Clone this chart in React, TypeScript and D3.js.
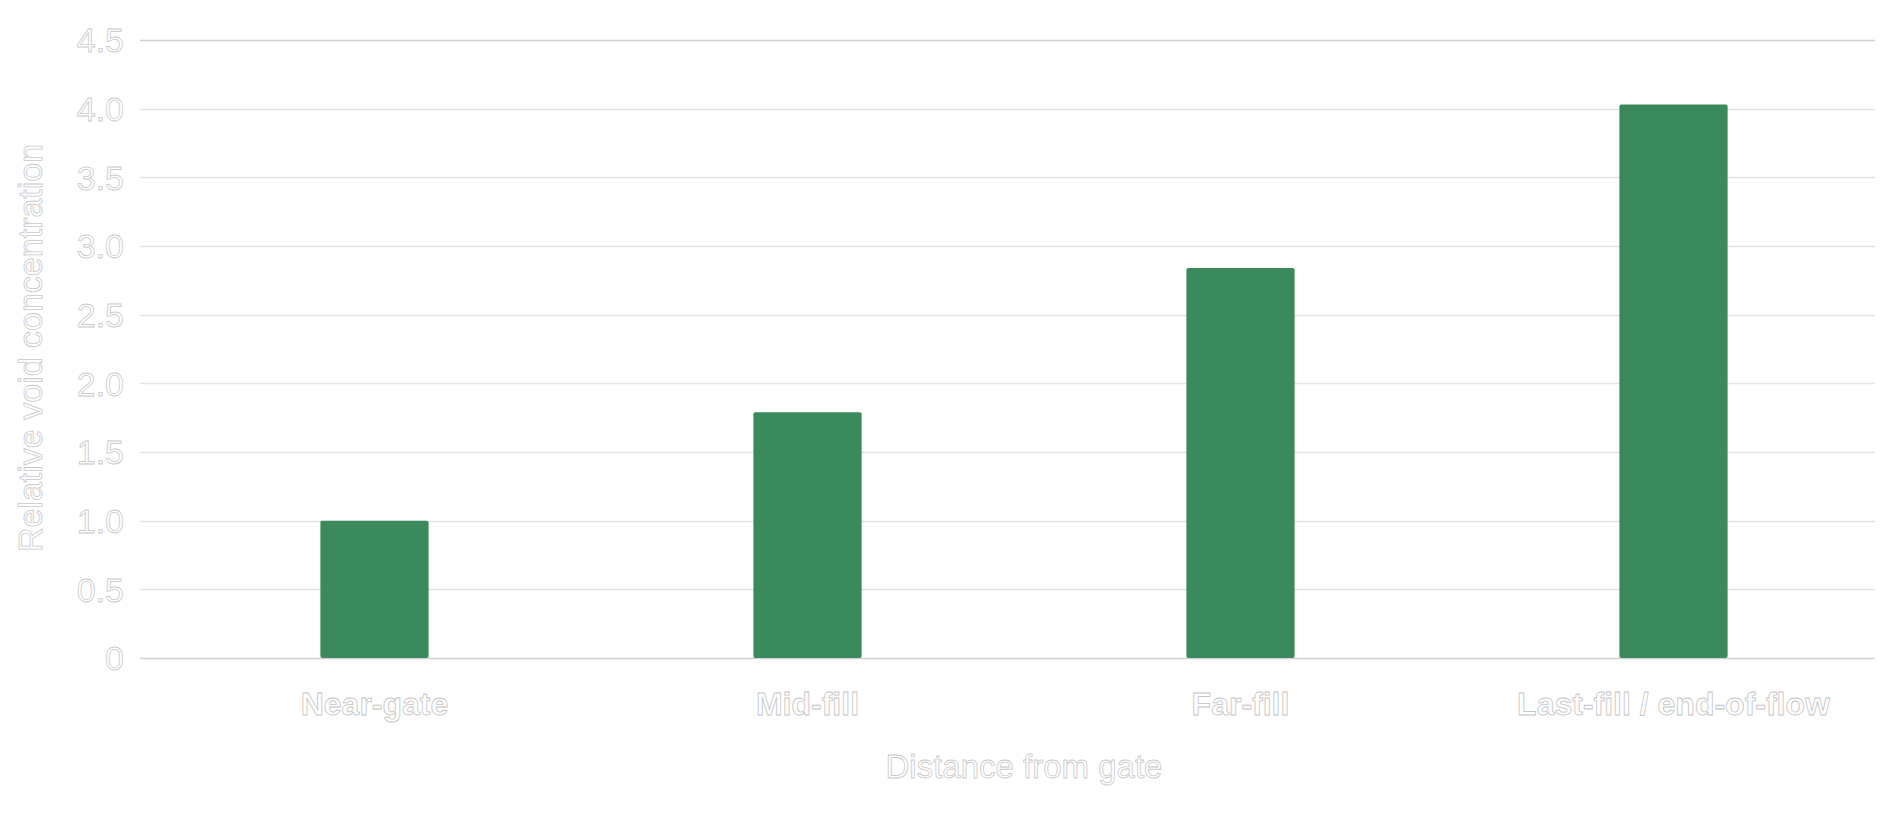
import React, { useEffect, useRef } from "react";
import * as d3 from "d3";

// chart data
const categories = ["Near-gate", "Mid-fill", "Far-fill", "Last-fill / end-of-flow"];
const voidValues = [1.0, 1.79, 2.84, 4.03];
const yTicks = [0, 0.5, 1.0, 1.5, 2.0, 2.5, 3.0, 3.5, 4.0, 4.5];
const xTitle = "Distance from gate";
const yTitle = "Relative void concentration";

const FONT = "'Liberation Sans', Arial, sans-serif";

function drawChart(node: SVGSVGElement) {
  const width = 1883;
  const height = 835;
  const gridLeft = 140;
  const gridRight = 1875;

  const svg = d3.select(node);
  svg.selectAll("*").remove();
  svg.attr("width", width).attr("height", height);

  const x = d3
    .scaleBand<string>()
    .domain(categories)
    .range([158, 1890])
    .paddingInner(0.75)
    .paddingOuter(0.375);

  const y = d3.scaleLinear().domain([0, 4.5]).range([658, 40]);

  // horizontal grid lines
  svg
    .append("g")
    .selectAll("line")
    .data(yTicks)
    .join("line")
    .attr("x1", gridLeft)
    .attr("x2", gridRight)
    .attr("y1", (d) => Math.round(y(d)) + 0.5)
    .attr("y2", (d) => Math.round(y(d)) + 0.5)
    .attr("stroke", (d) => (d === 0 || d === 4.5 ? "#cfcfcf" : "#e4e4e4"))
    .attr("stroke-width", 1.5);

  // y tick labels
  svg
    .append("g")
    .selectAll("text")
    .data(yTicks)
    .join("text")
    .attr("x", 124)
    .attr("y", (d) => y(d))
    .attr("dy", "0.36em")
    .attr("text-anchor", "end")
    .attr("font-family", FONT)
    .attr("font-size", 34)
    .attr("fill", "#fff")
    .attr("stroke", "#c9c9c9")
    .attr("stroke-width", 0.8)
    .text((d) => (d === 0 ? "0" : d3.format(".1f")(d)));

  // bars
  svg
    .append("g")
    .attr("fill", "#3a8a5b")
    .selectAll("rect")
    .data(voidValues)
    .join("rect")
    .attr("x", (d, i) => x(categories[i])!)
    .attr("y", (d) => y(d))
    .attr("width", x.bandwidth())
    .attr("height", (d) => y(0) - y(d))
    .attr("rx", 2);

  // category labels
  svg
    .append("g")
    .selectAll("text")
    .data(categories)
    .join("text")
    .attr("x", (d) => x(d)! + x.bandwidth() / 2)
    .attr("y", 715)
    .attr("text-anchor", "middle")
    .attr("font-family", FONT)
    .attr("font-weight", "bold")
    .attr("font-size", 32)
    .attr("fill", "#fff")
    .attr("stroke", "#c4c4c4")
    .attr("stroke-width", 0.8)
    .text((d) => d);

  // x axis title
  svg
    .append("text")
    .attr("x", (x.range()[0] + x.range()[1]) / 2)
    .attr("y", 778)
    .attr("text-anchor", "middle")
    .attr("font-family", FONT)
    .attr("font-size", 33)
    .attr("fill", "#fff")
    .attr("stroke", "#c9c9c9")
    .attr("stroke-width", 0.8)
    .text(xTitle);

  // y axis title
  svg
    .append("text")
    .attr("transform", "translate(42,348) rotate(-90)")
    .attr("text-anchor", "middle")
    .attr("font-family", FONT)
    .attr("font-size", 34)
    .attr("fill", "#fff")
    .attr("stroke", "#c9c9c9")
    .attr("stroke-width", 0.8)
    .text(yTitle);
}

export default function App() {
  const ref = useRef<SVGSVGElement>(null);

  useEffect(() => {
    if (ref.current) drawChart(ref.current);
  }, []);

  return (
    <svg
      ref={ref}
      style={{ position: "absolute", left: 0, top: 0, display: "block", background: "#fff" }}
    />
  );
}
